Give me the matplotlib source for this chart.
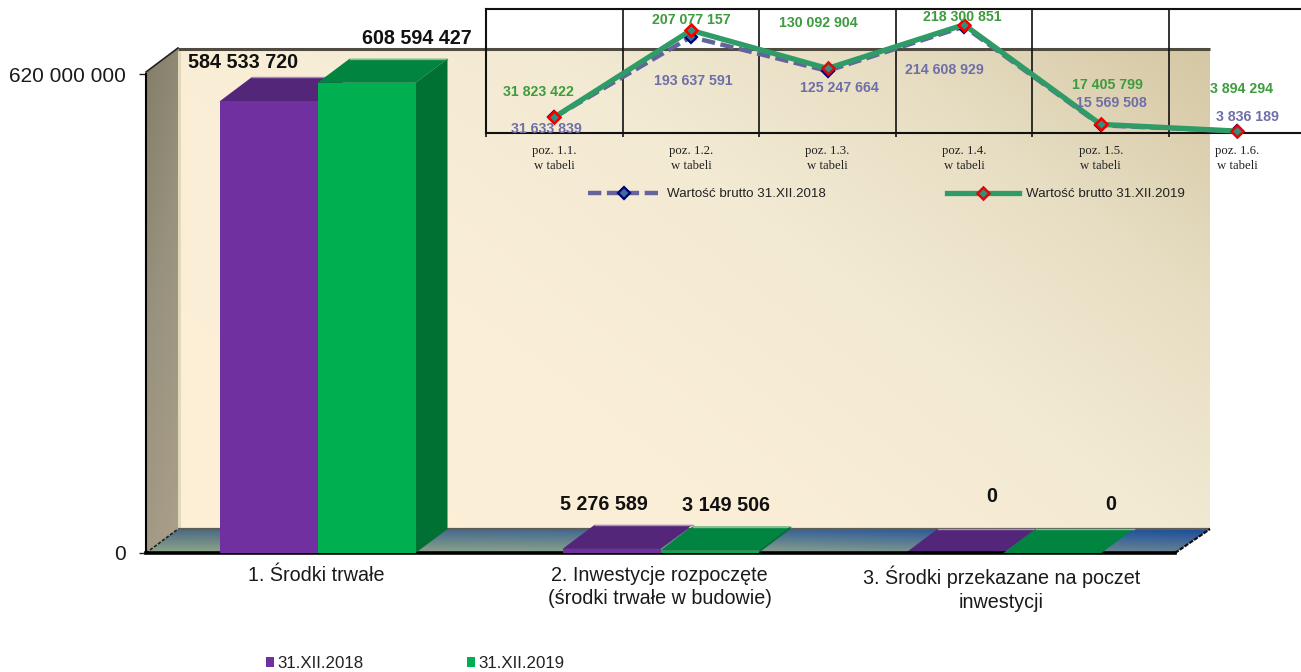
import numpy as np
import matplotlib
matplotlib.use("Agg")
import matplotlib.pyplot as plt
from matplotlib.patches import Polygon, Patch
from matplotlib.transforms import ScaledTranslation

# ---------- data ----------
categories = ["1. Środki trwałe",
              "2. Inwestycje rozpoczęte\n(środki trwałe w budowie)",
              "3. Środki przekazane na poczet\ninwestycji"]
series_2018 = [584533720, 5276589, 0]
series_2019 = [608594427, 3149506, 0]
series_names = ["31.XII.2018", "31.XII.2019"]

line_categories = ["poz. 1.1.\nw tabeli", "poz. 1.2.\nw tabeli", "poz. 1.3.\nw tabeli",
                   "poz. 1.4.\nw tabeli", "poz. 1.5.\nw tabeli", "poz. 1.6.\nw tabeli"]
brutto_2018 = [31633839, 193637591, 125247664, 214608929, 15569508, 3836189]
brutto_2019 = [31823422, 207077157, 130092904, 218300851, 17405799, 3894294]
line_names = ["Wartość brutto 31.XII.2018", "Wartość brutto 31.XII.2019"]

# ---------- layout / style ----------
W, H = 1301, 672
SANS = "Liberation Sans"
SERIF = "Liberation Serif"
plt.rcParams["font.family"] = SANS
PX = 72 / 100  # pixels -> points


def fmt(v):
    return f"{v:,}".replace(",", " ")


fig = plt.figure(figsize=(W / 100, H / 100), dpi=100, facecolor="white")

# background panels (walls and floor of the 3-D box), in pixel coordinates
bg = fig.add_axes([0, 0, 1, 1], zorder=0)
bg.set_xlim(0, W)
bg.set_ylim(H, 0)
bg.axis("off")

yy, xx = np.mgrid[0:H, 0:W]


def lerp(stops, t):
    ts = [s[0] for s in stops]
    return np.dstack([np.interp(t, ts, [s[1][c] / 255 for s in stops]) for c in range(3)])


def show_clipped(img, pts):
    im = bg.imshow(img, extent=(0, W, H, 0), aspect="auto", interpolation="bilinear", zorder=1)
    clip = Polygon(pts, closed=True, transform=bg.transData, fill=False, edgecolor="none")
    bg.add_patch(clip)
    im.set_clip_path(clip)


# back wall
t = ((xx - 178) / (1210 - 178) * 0.62 + (529 - yy) / (529 - 48) * 0.38)
wall = lerp([(0, (254, 240, 214)), (0.35, (250, 238, 214)), (0.6, (243, 234, 212)),
             (0.8, (230, 221, 194)), (1, (213, 199, 163))], t)
show_clipped(wall, [(178, 48), (1210, 48), (1210, 529), (178, 529)])
# left wall
t = ((xx - 146) / 32 * 0.25 + (yy - 48) / (553 - 48) * 0.75)
show_clipped(lerp([(0, (132, 125, 104)), (0.45, (152, 146, 126)), (1, (172, 160, 138))], t),
             [(146, 72), (178, 48), (178, 529), (146, 553)])
bg.fill([178, 181, 181, 178], [48, 48, 529, 529], color="#E2D8BC", zorder=2, lw=0)
# floor
tx = (xx - 146) / (1210 - 146)
ty = (yy - 529) / 24
top = lerp([(0, (78, 106, 130)), (0.5, (64, 104, 148)), (1, (26, 78, 158))], tx)
bot = lerp([(0, (146, 170, 138)), (0.6, (140, 162, 140)), (1, (104, 130, 146))], tx)
ty3 = np.clip(ty, 0, 1)[..., None]
show_clipped(top * (1 - ty3) + bot * ty3, [(146, 553), (178, 529), (1210, 529), (1175, 553)])
# box edges
bg.plot([178, 1210], [48.5, 48.5], color="#4F4B40", lw=2.2, zorder=3, solid_capstyle="butt")
bg.plot([178, 1210], [529, 529], color="#5E5E55", lw=1.6, zorder=3, solid_capstyle="butt")
bg.plot([146, 178], [72, 48], color="#222222", lw=1.2, zorder=3)
bg.plot([146, 178], [553, 529], color="#222222", lw=1.2, ls=(0, (2, 1)), zorder=3)
bg.plot([1175, 1210], [553, 529], color="#111111", lw=1.6, ls=(0, (2, 0.6)), zorder=3)

# main 3-D-style column chart
ax = fig.add_axes([146 / W, 1 - 553 / H, (1175 - 146) / W, (553 - 74) / H], zorder=1)
ax.patch.set_alpha(0)
ax.set_xlim(0, 3)
ax.set_ylim(0, 620000000)
for s in ("top", "right"):
    ax.spines[s].set_visible(False)
ax.spines["bottom"].set_linewidth(2.6)
ax.spines["left"].set_linewidth(1.5)

bar_w = 98 / 343
dx = 32 / 343
dy = 24 / 479 * 620000000
x_pos = np.arange(len(categories)) + 0.5

palette = [
    dict(front="#7030A0", top="#54267A", side="#54267A", hi="#A98BBE"),
    dict(front="#00B050", top="#00843F", side="#007033", hi="#7FBF97"),
]
label_offsets = [
    [(-26, 39), (-8, 44), (37, 57)],
    [(50, 44), (17, 45), (58, 48)],
]

for k, vals in enumerate([series_2018, series_2019]):
    st = palette[k]
    xs = x_pos + (k - 0.5) * bar_w
    for x, v in zip(xs, vals):
        l, r = x - bar_w / 2, x + bar_w / 2
        ax.add_patch(Polygon([(l, v), (l + dx, v + dy), (r + dx, v + dy), (r, v)], closed=True,
                             fc=st["top"], ec="none", clip_on=False, zorder=2 + k))
        ax.plot([l + dx, r + dx], [v + dy, v + dy], color=st["hi"], lw=1, clip_on=False, zorder=2 + k)
        if k == 1:
            ax.add_patch(Polygon([(r, 0), (r + dx, dy), (r + dx, v + dy), (r, v)], closed=True,
                                 fc=st["side"], ec="none", clip_on=False, zorder=2 + k))
    ax.bar(xs, vals, width=bar_w, color=st["front"], linewidth=0, zorder=3 + k)
    for x, v, (ox, oy) in zip(xs, vals, label_offsets[k]):
        ax.annotate(fmt(v), (x, v), xytext=(ox * PX, oy * PX), textcoords="offset points",
                    ha="center", va="center", fontsize=14.2, fontweight="bold", color="#111111",
                    annotation_clip=False, zorder=8)

ax.set_yticks([0, 620000000], labels=["0", "620 000 000"], fontsize=15, color="#1A1A1A")
ax.tick_params(axis="y", length=7 * PX, width=1, pad=13 * PX, color="#222222")
ax.set_xticks(x_pos, labels=categories, fontsize=14.2, color="#1A1A1A", linespacing=1.29)
ax.tick_params(axis="x", length=0, pad=13 * PX)
label_shift = [-1, -1, -2]
for lab, sh in zip(ax.get_xticklabels(), label_shift):
    lab.set_transform(lab.get_transform() + ScaledTranslation(sh * PX / 72, 0, fig.dpi_scale_trans))

leg = ax.legend(handles=[Patch(fc=palette[0]["front"], label=series_names[0]),
                         Patch(fc=palette[1]["front"], label=series_names[1])],
                loc="lower left", bbox_to_anchor=(266 / W, 1 - 671 / H), bbox_transform=fig.transFigure,
                ncol=2, frameon=False, fontsize=12.2, handlelength=0.48, handleheight=0.48,
                handletextpad=0.2, columnspacing=6.1, borderpad=0, borderaxespad=0)
for txt in leg.get_texts():
    txt.set_color("#222222")

# inset line chart
lx = fig.add_axes([486 / W, 1 - 133 / H, (6 * 136.6) / W, (133 - 9) / H], zorder=2)
lx.patch.set_alpha(0)
pos = np.arange(len(line_categories))
lx.set_xlim(-0.5, 5.5)
lx.set_ylim(0, 250000000)
lx.spines["right"].set_visible(False)
for s in ("top", "left", "bottom"):
    lx.spines[s].set_linewidth(1.5)
    lx.spines[s].set_color("#111111")

lx.plot(pos, brutto_2018, color="#64649C", lw=3.2, ls=(0, (3, 1.25)), marker="D", ms=6,
        mfc="#3A6E9A", mec="#00007A", mew=1.6, label=line_names[0], clip_on=False, zorder=3)
lx.plot(pos, brutto_2019, color="#2F9B66", lw=3.8, marker="D", ms=6,
        mfc="#2F8F80", mec="#F00000", mew=1.8, label=line_names[1], clip_on=False, zorder=4)

lx.set_xticks(pos, labels=line_categories, fontfamily=SERIF, fontsize=9.2, color="#222222", linespacing=1.35)
lx.tick_params(axis="x", which="major", length=0, pad=12 * PX)
lx.set_xticks(np.arange(-0.5, 5.0, 1), minor=True)
lx.tick_params(axis="x", which="minor", length=4 * PX, width=1.2, color="#111111")
lx.grid(True, axis="x", which="minor", color="#111111", lw=1.2)
lx.set_yticks([])
lx.set_axisbelow(True)

green_off = [(-16, 25), (0, 10), (-9, 45), (-2, 8), (7, 39), (4, 42)]
purple_off = [(-8, -12), (2, -44), (12, -17), (-20, -43), (11, 22), (10, 14)]
for vals, offs, col in [(brutto_2018, purple_off, "#6F6FA8"), (brutto_2019, green_off, "#3E9B3E")]:
    for x, v, (ox, oy) in zip(pos, vals, offs):
        lx.annotate(fmt(v), (x, v), xytext=(ox * PX, oy * PX), textcoords="offset points",
                    ha="center", va="center", fontsize=10.2, fontweight="bold", color=col,
                    annotation_clip=False, zorder=6)

lg = lx.legend(loc="center left", bbox_to_anchor=(588 / W, 1 - 194 / H), bbox_transform=fig.transFigure,
               ncol=2, frameon=False, fontsize=9.6, handlelength=5.4, handletextpad=0.5,
               columnspacing=9.1, borderpad=0, borderaxespad=0)
for txt in lg.get_texts():
    txt.set_color("#222222")

fig.savefig("out.png", dpi=100)
